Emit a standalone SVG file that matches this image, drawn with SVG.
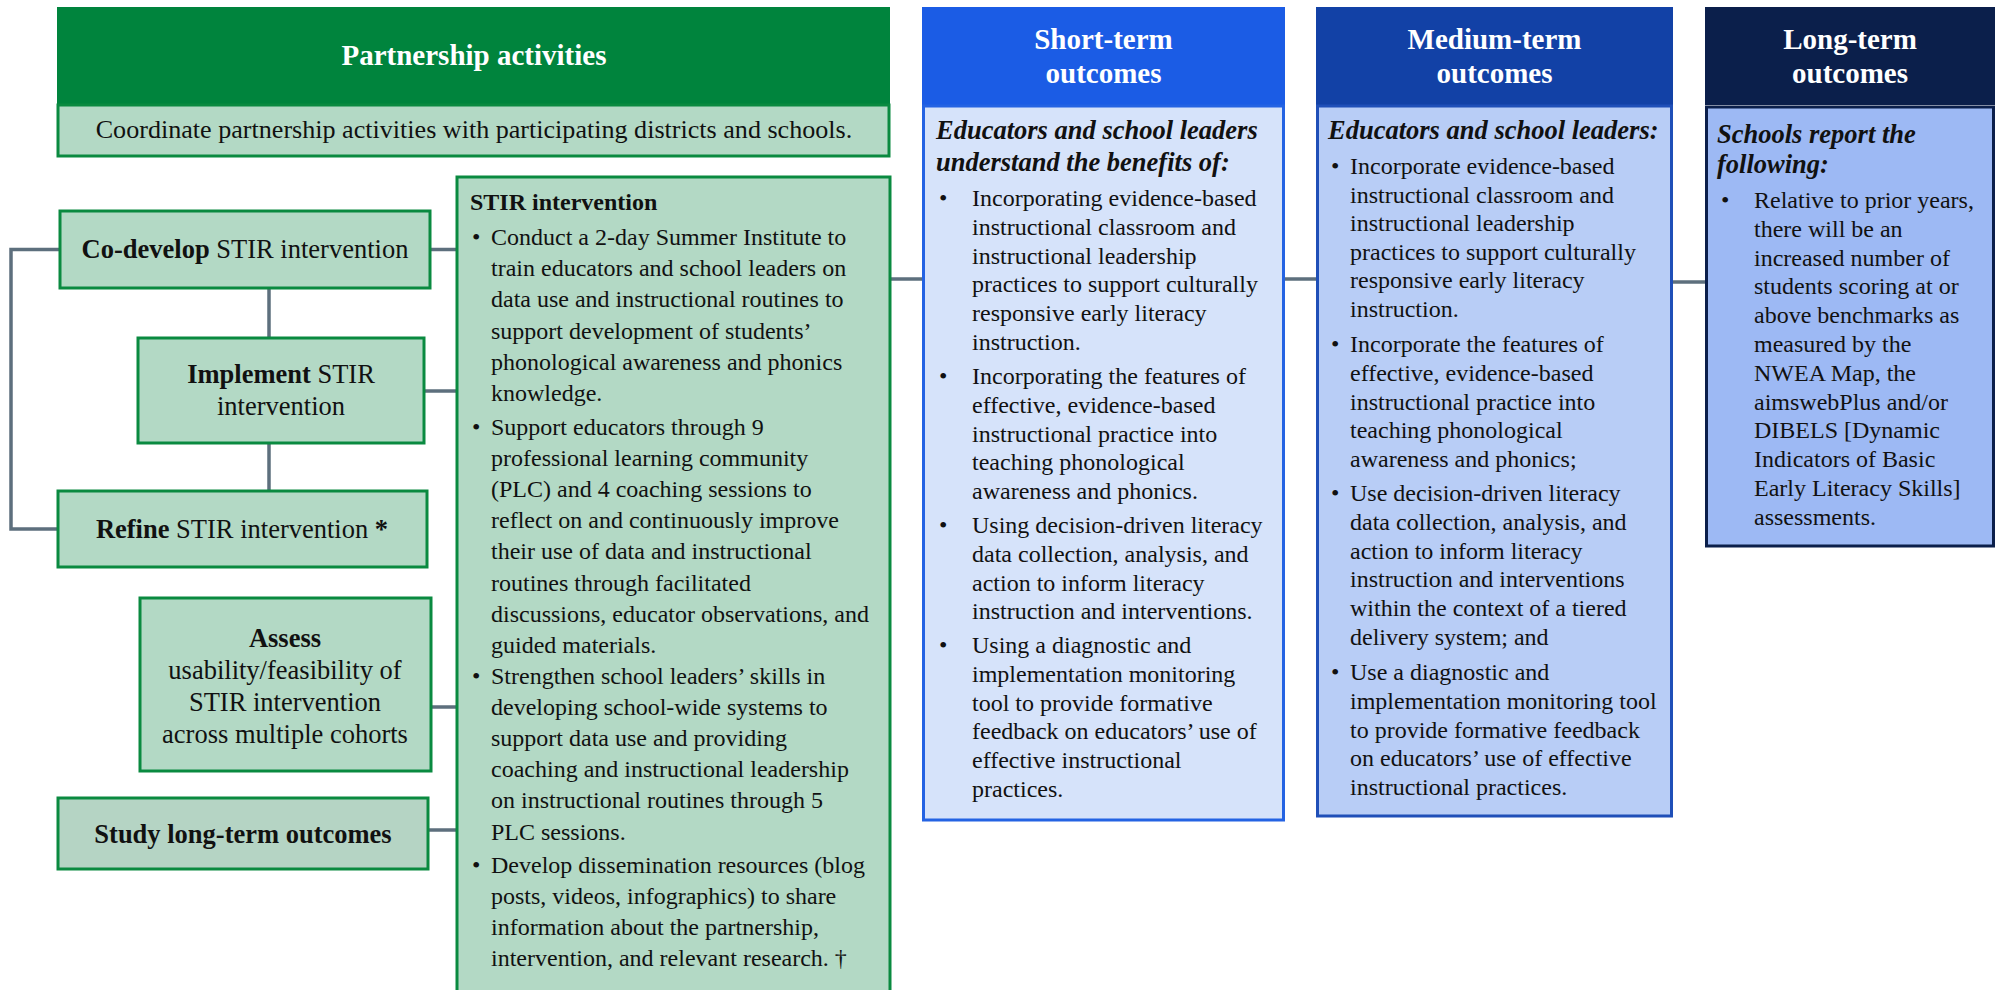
<svg xmlns="http://www.w3.org/2000/svg" width="2000" height="990" viewBox="0 0 2000 990">
  <style>
    text { font-family: "Liberation Serif", "Times New Roman", serif; fill: #111; }
    .hd { font-size: 29px; font-weight: bold; fill: #fff; text-anchor: middle; }
    .lg { font-size: 26.5px; }
    .band { font-size: 26.1px; }
    .ctr { text-anchor: middle; }
    .b { font-weight: bold; }
    .bi { font-size: 26.5px; font-weight: bold; font-style: italic; }
    .t { font-size: 24px; }
    .green { fill: #b3d9c5; stroke: #0a8a40; stroke-width: 3; }
    .conn { fill: none; stroke: #5d6f7d; stroke-width: 3.5; }
  </style>

  <!-- connectors -->
  <g id="connectors" class="conn">
    <polyline points="60,249.5 11,249.5 11,529 58,529"/>
    <line x1="269" y1="288" x2="269" y2="338"/>
    <line x1="269" y1="443" x2="269" y2="491"/>
    <line x1="430" y1="249.5" x2="457" y2="249.5"/>
    <line x1="424" y1="391" x2="457" y2="391"/>
    <line x1="431" y1="707" x2="457" y2="707"/>
    <line x1="428" y1="830" x2="457" y2="830"/>
    <line x1="890" y1="279" x2="923" y2="279"/>
    <line x1="1285" y1="279" x2="1316" y2="279"/>
    <line x1="1673" y1="282" x2="1705" y2="282"/>
  </g>

  <!-- partnership activities header and coordination band -->
  <g id="partnership">
    <rect x="57" y="7" width="833" height="98" fill="#00843d"/>
    <text class="hd" x="474" y="65">Partnership activities</text>
    <rect class="green" x="58" y="105" width="831" height="51"/>
    <text class="band ctr" x="474" y="138">Coordinate partnership activities with participating districts and schools.</text>
  </g>

  <g id="codevelop">
    <rect class="green" x="60" y="211" width="370" height="77"/>
    <text class="lg ctr" x="245" y="258"><tspan class="b">Co-develop</tspan> STIR intervention</text>
  </g>

  <g id="implement">
    <rect class="green" x="138" y="338" width="286" height="105"/>
    <text class="lg ctr" x="281" y="383"><tspan class="b">Implement</tspan> STIR</text>
    <text class="lg ctr" x="281" y="415">intervention</text>
  </g>

  <g id="refine">
    <rect class="green" x="58" y="491" width="369" height="76"/>
    <text class="lg ctr" x="242" y="538"><tspan class="b">Refine</tspan> STIR intervention <tspan class="b">*</tspan></text>
  </g>

  <g id="assess">
    <rect class="green" x="140" y="598" width="291" height="173"/>
    <text class="lg ctr b" x="285" y="647">Assess</text>
    <text class="lg ctr" x="285" y="679">usability/feasibility of</text>
    <text class="lg ctr" x="285" y="711">STIR intervention</text>
    <text class="lg ctr" x="285" y="743">across multiple cohorts</text>
  </g>

  <g id="study">
    <rect x="58" y="798" width="370" height="71" fill="#b5d4c4" stroke="#0a8a40" stroke-width="3"/>
    <text class="lg ctr b" x="243" y="843">Study long-term outcomes</text>
  </g>

  <!-- intervention detail box -->
  <g id="stir" class="t">
    <rect class="green" x="457" y="177" width="433" height="830"/>
    <text class="t b" x="470" y="210">STIR intervention</text>
    <text class="t" x="472" y="245">•</text>
    <text class="t" x="491" y="245">Conduct a 2-day Summer Institute to</text>
    <text class="t" x="491" y="276.2">train educators and school leaders on</text>
    <text class="t" x="491" y="307.4">data use and instructional routines to</text>
    <text class="t" x="491" y="338.6">support development of students’</text>
    <text class="t" x="491" y="369.8">phonological awareness and phonics</text>
    <text class="t" x="491" y="401">knowledge.</text>
    <text class="t" x="472" y="434.5">•</text>
    <text class="t" x="491" y="434.5">Support educators through 9</text>
    <text class="t" x="491" y="465.7">professional learning community</text>
    <text class="t" x="491" y="496.9">(PLC) and 4 coaching sessions to</text>
    <text class="t" x="491" y="528.1">reflect on and continuously improve</text>
    <text class="t" x="491" y="559.3">their use of data and instructional</text>
    <text class="t" x="491" y="590.5">routines through facilitated</text>
    <text class="t" x="491" y="621.7">discussions, educator observations, and</text>
    <text class="t" x="491" y="652.9">guided materials.</text>
    <text class="t" x="472" y="683.5">•</text>
    <text class="t" x="491" y="683.5">Strengthen school leaders’ skills in</text>
    <text class="t" x="491" y="714.7">developing school-wide systems to</text>
    <text class="t" x="491" y="745.9">support data use and providing</text>
    <text class="t" x="491" y="777.1">coaching and instructional leadership</text>
    <text class="t" x="491" y="808.3">on instructional routines through 5</text>
    <text class="t" x="491" y="839.5">PLC sessions.</text>
    <text class="t" x="472" y="872.5">•</text>
    <text class="t" x="491" y="872.5">Develop dissemination resources (blog</text>
    <text class="t" x="491" y="903.7">posts, videos, infographics) to share</text>
    <text class="t" x="491" y="934.9">information about the partnership,</text>
    <text class="t" x="491" y="966.1">intervention, and relevant research. †</text>
  </g>

  <!-- short-term outcomes -->
  <g id="short-term">
    <rect x="922" y="7" width="363" height="98" fill="#1b5ce5"/>
    <text class="hd" x="1103.5" y="49">Short-term</text>
    <text class="hd" x="1103.5" y="83">outcomes</text>
    <rect x="923.5" y="106" width="360" height="714" fill="#d6e3fa" stroke="#2463e3" stroke-width="3"/>
    <text class="bi" x="936" y="139">Educators and school leaders</text>
    <text class="bi" x="936" y="171">understand the benefits of:</text>
    <text class="t" x="939" y="206">•</text>
    <text class="t" x="972" y="206">Incorporating evidence-based</text>
    <text class="t" x="972" y="234.8">instructional classroom and</text>
    <text class="t" x="972" y="263.6">instructional leadership</text>
    <text class="t" x="972" y="292.4">practices to support culturally</text>
    <text class="t" x="972" y="321.2">responsive early literacy</text>
    <text class="t" x="972" y="350">instruction.</text>
    <text class="t" x="939" y="384">•</text>
    <text class="t" x="972" y="384">Incorporating the features of</text>
    <text class="t" x="972" y="412.8">effective, evidence-based</text>
    <text class="t" x="972" y="441.6">instructional practice into</text>
    <text class="t" x="972" y="470.4">teaching phonological</text>
    <text class="t" x="972" y="499.2">awareness and phonics.</text>
    <text class="t" x="939" y="533">•</text>
    <text class="t" x="972" y="533">Using decision-driven literacy</text>
    <text class="t" x="972" y="561.8">data collection, analysis, and</text>
    <text class="t" x="972" y="590.6">action to inform literacy</text>
    <text class="t" x="972" y="619.4">instruction and interventions.</text>
    <text class="t" x="939" y="653">•</text>
    <text class="t" x="972" y="653">Using a diagnostic and</text>
    <text class="t" x="972" y="681.8">implementation monitoring</text>
    <text class="t" x="972" y="710.6">tool to provide formative</text>
    <text class="t" x="972" y="739.4">feedback on educators’ use of</text>
    <text class="t" x="972" y="768.2">effective instructional</text>
    <text class="t" x="972" y="797">practices.</text>
  </g>

  <!-- medium-term outcomes -->
  <g id="medium-term">
    <rect x="1316" y="7" width="357" height="98" fill="#1241a6"/>
    <text class="hd" x="1494.5" y="49">Medium-term</text>
    <text class="hd" x="1494.5" y="83">outcomes</text>
    <rect x="1317.5" y="106" width="354" height="710" fill="#b8cdf6" stroke="#1f4fb8" stroke-width="3"/>
    <text class="bi" x="1328" y="139">Educators and school leaders:</text>
    <text class="t" x="1331" y="174">•</text>
    <text class="t" x="1350" y="174">Incorporate evidence-based</text>
    <text class="t" x="1350" y="202.6">instructional classroom and</text>
    <text class="t" x="1350" y="231.2">instructional leadership</text>
    <text class="t" x="1350" y="259.8">practices to support culturally</text>
    <text class="t" x="1350" y="288.4">responsive early literacy</text>
    <text class="t" x="1350" y="317">instruction.</text>
    <text class="t" x="1331" y="352">•</text>
    <text class="t" x="1350" y="352">Incorporate the features of</text>
    <text class="t" x="1350" y="380.8">effective, evidence-based</text>
    <text class="t" x="1350" y="409.6">instructional practice into</text>
    <text class="t" x="1350" y="438.4">teaching phonological</text>
    <text class="t" x="1350" y="467.2">awareness and phonics;</text>
    <text class="t" x="1331" y="501">•</text>
    <text class="t" x="1350" y="501">Use decision-driven literacy</text>
    <text class="t" x="1350" y="529.8">data collection, analysis, and</text>
    <text class="t" x="1350" y="558.6">action to inform literacy</text>
    <text class="t" x="1350" y="587.4">instruction and interventions</text>
    <text class="t" x="1350" y="616.2">within the context of a tiered</text>
    <text class="t" x="1350" y="645">delivery system; and</text>
    <text class="t" x="1331" y="680">•</text>
    <text class="t" x="1350" y="680">Use a diagnostic and</text>
    <text class="t" x="1350" y="708.8">implementation monitoring tool</text>
    <text class="t" x="1350" y="737.6">to provide formative feedback</text>
    <text class="t" x="1350" y="766.4">on educators’ use of effective</text>
    <text class="t" x="1350" y="795.2">instructional practices.</text>
  </g>

  <!-- long-term outcomes -->
  <g id="long-term">
    <rect x="1705" y="7" width="290" height="98" fill="#0b1f4b"/>
    <text class="hd" x="1850" y="49">Long-term</text>
    <text class="hd" x="1850" y="83">outcomes</text>
    <rect x="1706.5" y="107" width="287" height="439" fill="#9db9f4" stroke="#0b1f4b" stroke-width="3"/>
    <text class="bi" x="1717" y="143">Schools report the</text>
    <text class="bi" x="1717" y="173">following:</text>
    <text class="t" x="1721" y="208">•</text>
    <text class="t" x="1754" y="208">Relative to prior years,</text>
    <text class="t" x="1754" y="236.8">there will be an</text>
    <text class="t" x="1754" y="265.6">increased number of</text>
    <text class="t" x="1754" y="294.4">students scoring at or</text>
    <text class="t" x="1754" y="323.2">above benchmarks as</text>
    <text class="t" x="1754" y="352">measured by the</text>
    <text class="t" x="1754" y="380.8">NWEA Map, the</text>
    <text class="t" x="1754" y="409.6">aimswebPlus and/or</text>
    <text class="t" x="1754" y="438.4">DIBELS [Dynamic</text>
    <text class="t" x="1754" y="467.2">Indicators of Basic</text>
    <text class="t" x="1754" y="496">Early Literacy Skills]</text>
    <text class="t" x="1754" y="524.8">assessments.</text>
  </g>
</svg>
